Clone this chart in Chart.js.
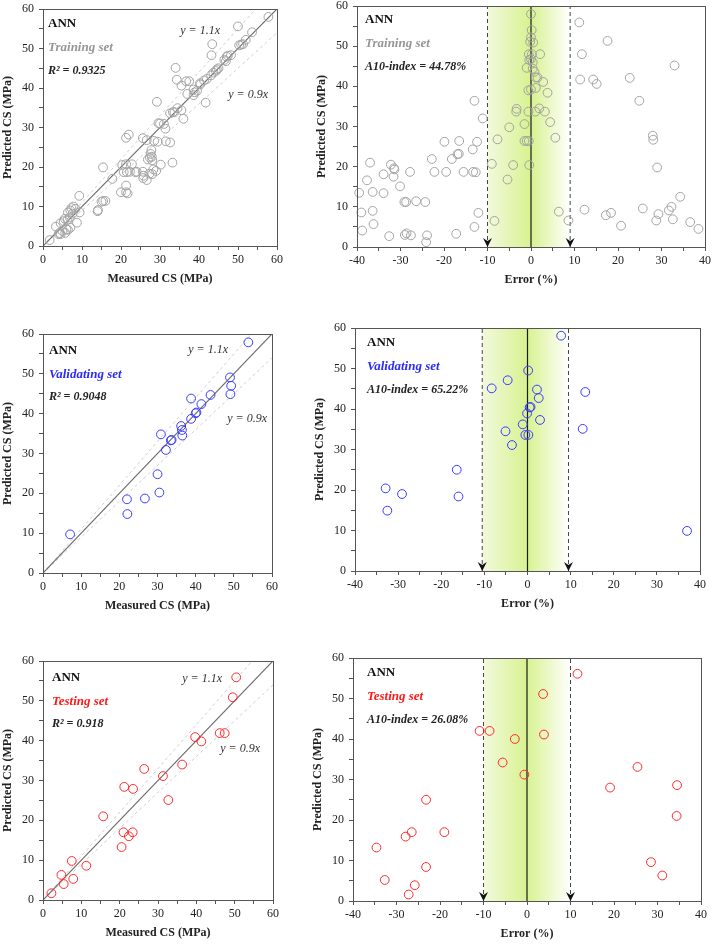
<!DOCTYPE html>
<html><head><meta charset="utf-8">
<script src="https://cdn.jsdelivr.net/npm/chart.js@4.4.1/dist/chart.umd.min.js"></script>
<style>
html,body{margin:0;padding:0;background:#fff;width:714px;height:945px;overflow:hidden;position:relative}
canvas{position:absolute}
</style></head><body>
<canvas id="c1"></canvas><canvas id="c2"></canvas><canvas id="c3"></canvas>
<canvas id="c4"></canvas><canvas id="c5"></canvas><canvas id="c6"></canvas>
<script>
// ---------------- DATA ----------------
const trainMeasured = [1.7,3.3,4.2,4.5,5.0,4.5,5.3,6.0,6.4,6.9,6.4,7.0,7.3,7.8,7.6,8.3,7.0,8.7,9.4,9.3,6.3,5.6,14.1,14.0,15.4,15.0,16.0,15.4,17.8,20.0,21.3,21.7,21.3,20.3,21.3,22.8,21.3,22.0,20.7,21.5,22.3,23.7,25.7,26.6,25.6,25.6,26.6,28.5,29.4,27.8,27.6,27.4,26.9,28.0,27.3,28.3,29.0,30.2,33.2,31.5,32.6,29.2,29.6,31.0,31.4,32.6,33.7,34.5,35.5,33.3,36.0,34.0,34.3,35.5,36.7,37.5,37.0,38.9,38.6,39.5,40.3,41.3,42.0,41.7,43.1,43.7,44.3,44.6,45.0,43.2,43.4,46.5,46.9,47.1,47.4,48.2,50.0,50.3,50.8,51.3,52.0,53.6,57.8,38.6,25.8,28.0,40.3,30.0,27.9,24.0,5.7,4.0];
const trainPredicted = [1.5,4.9,3.3,3.0,3.8,5.8,6.3,4.2,4.1,7.2,8.5,9.0,9.6,10.0,8.2,9.4,4.6,5.9,8.5,12.7,6.6,6.9,9.1,8.8,11.4,11.2,11.4,19.9,17.0,13.6,13.6,13.3,15.3,20.5,20.7,20.7,27.4,28.2,18.7,18.7,18.8,18.7,17.2,16.7,18.8,27.3,26.8,26.6,26.4,24.3,23.3,22.4,21.9,21.7,18.3,19.4,19.0,20.6,21.1,26.5,26.2,36.5,31.1,30.9,29.7,33.6,33.9,34.9,34.4,33.9,32.2,45.1,42.1,40.6,41.7,41.7,38.5,38.9,39.6,39.3,41.2,41.9,42.3,36.3,43.2,43.9,44.3,44.7,45.0,48.3,51.1,47.1,46.8,47.9,48.2,48.3,55.6,50.8,51.0,51.1,52.2,54.1,58.0,38.2,17.8,18.2,40.9,31.0,22.6,18.8,3.3,3.0];
const trainErrorPct = [0.0,0.15,0.0,-0.2,0.5,-0.5,0.2,2.1,0.0,-0.4,0.4,-1.0,0.4,0.8,1.1,1.5,2.8,-0.6,0.0,1.1,3.8,-13.0,-3.3,-3.4,-0.6,1.0,1.9,3.2,-11.1,-1.5,-5.0,4.4,-7.7,-1.5,-1.0,-0.5,5.6,-19.9,-16.5,-12.4,-13.4,-16.9,-16.6,-18.2,-22.8,-37.0,-32.2,-31.5,-31.4,-31.6,-33.9,-27.8,-22.2,-19.5,-15.5,-13.3,-12.7,-9.0,-4.1,-0.4,-5.4,-37.7,-30.1,-39.5,-36.4,-33.9,-29.1,-28.7,-26.4,-24.3,-39.0,-36.4,-12.1,6.4,-36.2,-38.8,-8.4,-13.0,8.6,-32.6,-29.0,-28.6,-27.6,-23.9,-24.1,-17.2,11.1,17.6,11.7,33.0,11.3,14.3,15.1,22.7,24.9,28.0,28.1,29.0,34.3,12.3,17.2,18.4,25.7,20.7,29.3,28.8,31.7,32.3,32.6,36.6,38.5];
const trainErrorPred = [58.0,54.0,52.2,51.1,50.9,48.0,48.0,48.0,46.8,46.6,46.0,44.6,44.4,43.6,42.2,42.2,41.1,39.0,39.2,39.6,38.4,36.4,34.4,33.7,33.7,33.7,34.5,33.7,32.0,30.6,29.8,31.1,26.8,26.4,26.4,26.4,27.2,26.2,26.4,26.2,24.3,23.1,23.2,21.9,21.9,21.0,20.5,19.6,19.3,17.5,18.1,18.7,18.7,18.7,18.7,18.7,18.6,20.7,20.4,20.4,16.8,16.6,15.1,13.5,13.7,13.4,11.2,11.2,11.4,11.2,8.6,9.0,8.5,8.8,5.7,4.1,6.5,5.0,6.6,2.7,3.0,3.4,2.9,2.9,1.2,3.3,55.9,51.3,48.0,45.2,41.7,41.7,40.6,42.1,36.4,27.7,26.7,19.8,12.5,9.3,7.9,8.5,9.6,5.3,8.2,6.6,9.1,10.0,6.9,6.2,4.5];

const validMeasured = [7.1,22.0,22.1,26.7,30.0,30.5,30.9,32.2,33.5,33.7,36.2,36.4,36.5,38.8,38.8,40.0,40.2,41.5,43.9,49.0,49.3,49.1,53.8];
const validPredicted = [9.7,18.5,14.8,18.7,24.8,20.2,34.8,30.9,33.3,33.4,36.9,35.9,34.5,38.7,43.8,40.1,40.3,42.4,44.7,49.1,47.0,44.9,57.9];
const validErrorPct = [7.8,0.15,-4.6,-8.3,2.2,13.4,2.6,0.5,0.7,-0.1,2.9,-1.1,-5.1,12.8,-0.5,0.2,-3.6,-16.4,-32.9,-29.1,-16.0,-32.5,37.0];
const validErrorPred = [58.1,49.5,47.1,45.1,44.8,44.2,42.7,40.4,40.5,38.9,37.3,36.2,34.5,35.1,33.6,33.6,31.1,25.0,20.4,19.0,18.4,14.9,9.9];

const testMeasured = [2.2,4.8,5.4,7.5,7.9,11.3,15.7,20.5,21.0,21.2,22.4,23.4,23.5,26.4,31.3,32.7,36.3,39.7,41.3,46.1,47.4,49.5,50.4];
const testPredicted = [1.7,6.3,4.0,9.8,5.3,8.6,21.0,13.3,17.0,28.4,16.0,17.0,27.9,32.9,31.1,25.1,34.0,40.9,39.8,41.9,41.9,50.9,55.9];
const testErrorPct = [11.6,3.7,-10.9,-8.6,-2.8,3.9,-5.6,-0.6,25.4,19.1,34.5,-23.2,34.4,-26.5,-27.9,-19.0,-34.6,-23.2,28.5,31.1,-32.7,-25.8,-27.2];
const testErrorPred = [56.1,51.1,42.0,42.0,40.0,41.1,34.2,31.2,33.1,28.0,28.6,25.0,21.0,17.0,15.9,17.0,13.2,8.4,9.6,6.3,5.2,3.9,1.6];

const setNames = ['Training set','Validating set','Testing set'];
const r2Labels = ['R² = 0.9325','R² = 0.9048','R² = 0.918'];
const a10Labels = ['A10-index = 44.78%','A10-index = 65.22%','A10-index = 26.08%'];
const a10Bounds = [[-10,9],[-10.5,9.5],[-10,10]];
const refSlopes = [1, 1.1, 0.9];
const csRange = [0, 60];
const errRange = [-40, 40];
const modelName = 'ANN';

// ---------------- STYLE ----------------
const FONT = '"Liberation Serif","Times New Roman",serif';
const setColors = ['#a3a3a3', '#3a3aff', '#ff2a2a'];
const setTextColors = ['#969696', '#2b2bff', '#ff1a1a'];
const YW = 44, PT = 8, PR = 14, XH = 44;

const decoPlugin = {
  id: 'deco',
  beforeDatasetsDraw(chart, args, o) {
    const {ctx, chartArea: a, scales: {x}} = chart;
    if (o.band) {
      const x0 = x.getPixelForValue(o.band[0]), x1 = x.getPixelForValue(o.band[1]);
      const mid = (0 - o.band[0]) / (o.band[1] - o.band[0]);
      const g = ctx.createLinearGradient(x0, 0, x1, 0);
      g.addColorStop(0, '#f2f9dc');
      g.addColorStop(mid, '#d8f290');
      g.addColorStop(1, '#ffffff');
      ctx.save(); ctx.fillStyle = g;
      ctx.fillRect(x0, a.top, x1 - x0, a.bottom - a.top);
      ctx.restore();
    }
  },
  afterDatasetsDraw(chart, args, o) {
    const {ctx, chartArea: a, scales: {x}} = chart;
    ctx.save();
    if (o.band) {
      ctx.fillStyle = '#111';
      o.band.forEach(b => {
        const px = x.getPixelForValue(b);
        ctx.beginPath();
        ctx.moveTo(px, a.bottom);
        ctx.lineTo(px - 4.5, a.bottom - 9);
        ctx.lineTo(px, a.bottom - 6);
        ctx.lineTo(px + 4.5, a.bottom - 9);
        ctx.closePath(); ctx.fill();
      });
    }
    ctx.strokeStyle = '#555'; ctx.lineWidth = 1;
    ctx.strokeRect(Math.round(a.left) + 0.5, Math.round(a.top) + 0.5,
      Math.round(a.right - a.left), Math.round(a.bottom - a.top));
    ctx.textBaseline = 'middle';
    (o.texts || []).forEach(t => {
      ctx.font = t.font; ctx.fillStyle = t.color;
      if (t.right) { ctx.textAlign = 'right'; ctx.fillText(t.text, a.right - t.dx, a.top + t.dy); }
      else { ctx.textAlign = 'left'; ctx.fillText(t.text, a.left + t.dx, a.top + t.dy); }
    });
    ctx.restore();
  }
};

function axis(range, title, isX) {
  return {
    type: 'linear', min: range[0], max: range[1],
    afterFit: s => {
      if (isX) s.height = XH; else s.width = YW;
      s.paddingLeft = 0; s.paddingRight = 0; s.paddingTop = 0; s.paddingBottom = 0;
    },
    ticks: {
      stepSize: 5, autoSkip: false, maxRotation: 0, minRotation: 0, padding: isX ? 3 : 5,
      color: '#222', font: {family: FONT, size: 12},
      callback: v => (v % 10 === 0 ? String(v) : '')
    },
    grid: {drawOnChartArea: false, drawTicks: true, tickLength: 4, color: '#555'},
    border: {display: true, color: '#555', width: 1},
    title: {display: true, text: title, color: '#222',
      font: {family: FONT, size: 12, weight: 'bold'},
      padding: isX ? {top: 0, bottom: 4} : {top: 2, bottom: 0}}
  };
}

function place(id, rect) {
  const [L, T, R, B] = rect;
  const c = document.getElementById(id);
  c.style.left = (L - YW) + 'px'; c.style.top = (T - PT) + 'px';
  c.width = R - L + YW + PR; c.height = B - T + PT + XH;
  c.style.width = c.width + 'px'; c.style.height = c.height + 'px';
  return c;
}

function pts(xs, ys) { return xs.map((v, i) => ({x: v, y: ys[i]})); }

function scatterDs(xs, ys, color) {
  return {data: pts(xs, ys), pointStyle: 'circle', pointRadius: 4.4, pointBorderWidth: 1,
    borderColor: color, backgroundColor: 'rgba(0,0,0,0)', pointBackgroundColor: 'rgba(0,0,0,0)',
    pointBorderColor: color, clip: false, showLine: false};
}

function lineDs(data, color, width, dash) {
  return {data, showLine: true, pointRadius: 0, borderColor: color, borderWidth: width,
    borderDash: dash || [], backgroundColor: color, fill: false, tension: 0};
}

function leftPanel(id, rect, k, xs, ys, tx) {
  const c = place(id, rect);
  const max = csRange[1];
  const refs = refSlopes.map(s => [{x: 0, y: 0}, s >= 1 ? {x: max / s, y: max} : {x: max, y: max * s}]);
  new Chart(c, {
    type: 'scatter',
    data: {datasets: [
      scatterDs(xs, ys, setColors[k]),
      lineDs(refs[0], '#6a6a6a', 1.2),
      lineDs(refs[1], '#cfcfcf', 1, [3, 3]),
      lineDs(refs[2], '#cfcfcf', 1, [3, 3])
    ]},
    options: {
      responsive: false, animation: false, devicePixelRatio: 1,
      layout: {padding: {top: PT, right: PR, left: 0, bottom: 0}},
      plugins: {legend: {display: false}, tooltip: {enabled: false},
        deco: {texts: [
          {text: modelName, dx: tx.a[0], dy: tx.a[1], font: 'bold 13px ' + FONT, color: '#111'},
          {text: setNames[k], dx: tx.a[0], dy: tx.s, font: 'italic bold 13px ' + FONT, color: setTextColors[k]},
          {text: r2Labels[k], dx: tx.a[0], dy: tx.r, font: 'italic bold 12px ' + FONT, color: '#222'},
          {text: 'y = 1.1x', dx: tx.u[0], dy: tx.u[1], right: true, font: 'italic 12px ' + FONT, color: '#333'},
          {text: 'y = 0.9x', dx: tx.l[0], dy: tx.l[1], right: true, font: 'italic 12px ' + FONT, color: '#333'}
        ]}},
      scales: {x: axis(csRange, 'Measured CS (MPa)', true), y: axis(csRange, 'Predicted CS (MPa)', false)}
    },
    plugins: [decoPlugin]
  });
}

function rightPanel(id, rect, k, xs, ys, tx) {
  const c = place(id, rect);
  const b = a10Bounds[k];
  const vline = v => [{x: v, y: csRange[0]}, {x: v, y: csRange[1]}];
  new Chart(c, {
    type: 'scatter',
    data: {datasets: [
      scatterDs(xs, ys, setColors[k]),
      lineDs(vline(0), '#1a1a1a', 1.2),
      lineDs(vline(b[0]), '#444', 1, [4, 3]),
      lineDs(vline(b[1]), '#444', 1, [4, 3])
    ]},
    options: {
      responsive: false, animation: false, devicePixelRatio: 1,
      layout: {padding: {top: PT, right: PR, left: 0, bottom: 0}},
      plugins: {legend: {display: false}, tooltip: {enabled: false},
        deco: {band: b, texts: [
          {text: modelName, dx: tx[0], dy: tx[1], font: 'bold 13px ' + FONT, color: '#111'},
          {text: setNames[k], dx: tx[0], dy: tx[1] + 24, font: 'italic bold 13px ' + FONT, color: setTextColors[k]},
          {text: a10Labels[k], dx: tx[0], dy: tx[1] + 47, font: 'italic bold 12px ' + FONT, color: '#222'}
        ]}},
      scales: {x: axis(errRange, 'Error (%)', true), y: axis(csRange, 'Predicted CS (MPa)', false)}
    },
    plugins: [decoPlugin]
  });
}

leftPanel('c1', [43, 9, 277, 246], 0, trainMeasured, trainPredicted,
  {a: [5, 15], s: 39, r: 62, u: [57, 22], l: [9, 86]});
rightPanel('c2', [357, 6, 705, 247], 0, trainErrorPct, trainErrorPred, [8, 14]);
leftPanel('c3', [43, 334, 272, 573], 1, validMeasured, validPredicted,
  {a: [6, 17], s: 41, r: 63, u: [44, 16], l: [5, 85]});
rightPanel('c4', [355, 328, 700, 571], 1, validErrorPct, validErrorPred, [12, 15]);
leftPanel('c5', [43, 661, 273, 900], 2, testMeasured, testPredicted,
  {a: [9, 17], s: 41, r: 63, u: [51, 18], l: [13, 88]});
rightPanel('c6', [353, 658, 701, 901], 2, testErrorPct, testErrorPred, [14, 15]);
</script>
</body></html>
